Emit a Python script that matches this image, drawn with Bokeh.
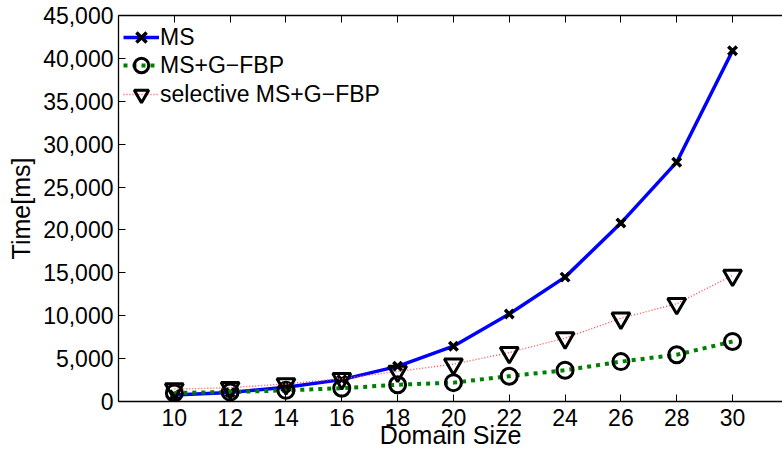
from bokeh.plotting import figure
from bokeh.models import LinearAxis, FixedTicker, NumeralTickFormatter, Range1d, Legend, LegendItem
from bokeh.embed import file_html
from bokeh.resources import INLINE

domain_size = [10, 12, 14, 16, 18, 20, 22, 24, 26, 28, 30]
ms = [750, 1050, 1650, 2550, 4100, 6450, 10200, 14500, 20800, 27900, 40900]
ms_gfbp = [1000, 1100, 1300, 1550, 1950, 2200, 2950, 3650, 4650, 5450, 7000]
selective = [1450, 1600, 2050, 2650, 3500, 4350, 5700, 7400, 9700, 11400, 14700]
series_names = ["MS", "MS+G\u2212FBP", "selective MS+G\u2212FBP"]
x_ticks = [10, 12, 14, 16, 18, 20, 22, 24, 26, 28, 30]
y_ticks = [0, 5000, 10000, 15000, 20000, 25000, 30000, 35000, 40000, 45000]

FONT = "Liberation Sans"
FS = "23px"
FS_LABEL = "25px"

p = figure(width=782, height=452, output_backend="svg", toolbar_location=None,
           x_range=Range1d(8, 31.79), y_range=Range1d(0, 45000),
           min_border_left=118, min_border_right=0, min_border_top=15, min_border_bottom=51)
p.outline_line_color = None
p.xgrid.visible = False
p.ygrid.visible = False
p.background_fill_color = "white"

for ax in (p.xaxis[0], p.yaxis[0]):
    ax.major_tick_in = 7
    ax.major_tick_out = 0
    ax.minor_tick_line_color = None
    ax.axis_line_color = "black"
    ax.axis_line_width = 1.3
    ax.major_tick_line_color = "black"
    ax.major_label_text_font = FONT
    ax.major_label_text_font_size = FS
    ax.major_label_text_color = "black"
    ax.axis_label_text_font = FONT
    ax.axis_label_text_font_size = FS_LABEL
    ax.axis_label_text_font_style = "normal"
    ax.axis_label_text_color = "black"

p.xaxis[0].ticker = FixedTicker(ticks=x_ticks)
p.yaxis[0].ticker = FixedTicker(ticks=y_ticks)
p.yaxis[0].formatter = NumeralTickFormatter(format="0,0")
p.xaxis[0].axis_label = "Domain Size"
p.yaxis[0].axis_label = "Time[ms]"
p.xaxis[0].major_label_standoff = 7
p.xaxis[0].axis_label_standoff = -8
p.yaxis[0].major_label_standoff = 5
p.yaxis[0].axis_label_standoff = 5

top = LinearAxis(ticker=FixedTicker(ticks=x_ticks), major_tick_in=7, major_tick_out=0,
                 minor_tick_line_color=None, major_label_text_font_size=FS,
                 major_label_overrides={t: "" for t in x_ticks},
                 major_label_standoff=0, axis_line_color="black", axis_line_width=1.3)
p.add_layout(top, "above")

l1 = p.line(domain_size, ms, line_color="#0000ff", line_width=3.5)
m1 = p.scatter(domain_size, ms, marker="x", size=12, line_color="black", line_width=3.5)
l2 = p.line(domain_size, ms_gfbp, line_color="#008000", line_width=4, line_dash="4 5")
m2 = p.scatter(domain_size, ms_gfbp, marker="circle", size=16, line_color="black",
               fill_color=None, line_width=3)
l3 = p.line(domain_size, selective, line_color="#ff5050", line_width=1.4, line_dash="1 2")
m3 = p.scatter(domain_size, selective, marker="inverted_triangle", size=18, line_color="black",
               fill_color=None, line_width=3)

# one legend box per entry so the rows sit at the reference's spacing
legend_bottoms = [344, 316, 287]
for name, rends, yb in zip(series_names, [[l1, m1], [l2, m2], [l3, m3]], legend_bottoms):
    lg = Legend(items=[LegendItem(label=name, renderers=rends)], location=(5, yb),
                margin=0, padding=0, spacing=0, glyph_width=36, glyph_height=40,
                label_height=40, label_standoff=1, label_text_font=FONT,
                label_text_font_size=FS, label_text_color="black",
                border_line_color=None, background_fill_alpha=0)
    p.add_layout(lg)

open("out.html", "w").write(file_html(p, INLINE))
